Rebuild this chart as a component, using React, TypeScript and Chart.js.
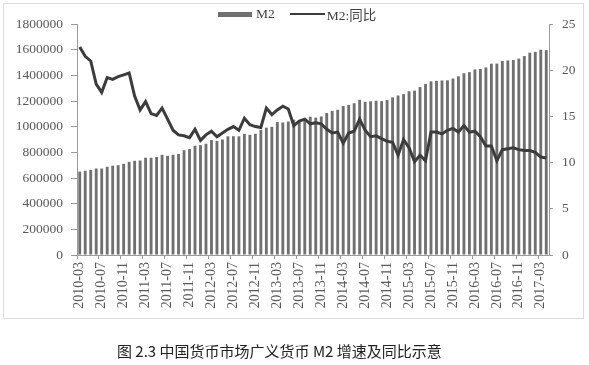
import React, { useEffect, useRef } from "react";
import { Chart, registerables } from "chart.js";

Chart.register(...registerables);

const categories = [
  "2010-03","2010-04","2010-05","2010-06","2010-07","2010-08","2010-09","2010-10","2010-11","2010-12",
  "2011-01","2011-02","2011-03","2011-04","2011-05","2011-06","2011-07","2011-08","2011-09","2011-10","2011-11","2011-12",
  "2012-01","2012-02","2012-03","2012-04","2012-05","2012-06","2012-07","2012-08","2012-09","2012-10","2012-11","2012-12",
  "2013-01","2013-02","2013-03","2013-04","2013-05","2013-06","2013-07","2013-08","2013-09","2013-10","2013-11","2013-12",
  "2014-01","2014-02","2014-03","2014-04","2014-05","2014-06","2014-07","2014-08","2014-09","2014-10","2014-11","2014-12",
  "2015-01","2015-02","2015-03","2015-04","2015-05","2015-06","2015-07","2015-08","2015-09","2015-10","2015-11","2015-12",
  "2016-01","2016-02","2016-03","2016-04","2016-05","2016-06","2016-07","2016-08","2016-09","2016-10","2016-11","2016-12",
  "2017-01","2017-02","2017-03","2017-04",
];

const m2Values = [
  649947, 656561, 663351, 673922, 674051, 687507, 696472, 699777, 710339, 725852,
  733885, 736131, 758131, 757385, 763409, 780821, 772924, 780852, 787406, 816829, 825494, 851591,
  855899, 867171, 895566, 889604, 900049, 924991, 925375, 924895, 943689, 936405, 944758, 974149,
  992129, 998601, 1035858, 1032552, 1040021, 1054404, 1052212, 1061256, 1077379, 1070242, 1079257, 1106525,
  1123521, 1131761, 1160687, 1168813, 1182300, 1209587, 1194249, 1197499, 1202051, 1199236, 1208600, 1228375,
  1242710, 1253383, 1275333, 1280779, 1308686, 1333375, 1353211, 1356991, 1359824, 1361020, 1374917, 1392278,
  1416320, 1424619, 1446198, 1449531, 1461695, 1490492, 1491560, 1512400, 1516361, 1519500, 1530400, 1550067,
  1575946, 1582915, 1599610, 1596331,
];

const m2Yoy = [
  22.5, 21.5, 21.0, 18.5, 17.6, 19.2, 19.0, 19.3, 19.5, 19.7,
  17.2, 15.7, 16.6, 15.3, 15.1, 15.9, 14.7, 13.5, 13.0, 12.9, 12.7, 13.6,
  12.4, 13.0, 13.4, 12.8, 13.2, 13.6, 13.9, 13.5, 14.8, 14.1, 13.9, 13.8,
  15.9, 15.2, 15.7, 16.1, 15.8, 14.0, 14.5, 14.7, 14.2, 14.3, 14.2, 13.6,
  13.2, 13.3, 12.1, 13.2, 13.4, 14.7, 13.5, 12.8, 12.9, 12.6, 12.3, 12.2,
  10.8, 12.5, 11.6, 10.1, 10.8, 10.2, 13.3, 13.3, 13.1, 13.5, 13.7, 13.3,
  14.0, 13.3, 13.4, 12.8, 11.8, 11.8, 10.2, 11.4, 11.5, 11.6, 11.4, 11.3,
  11.3, 11.1, 10.6, 10.5,
];

const seriesNames = ["M2", "M2:同比"];
const captionText = "图 2.3 中国货币市场广义货币 M2 增速及同比示意";

const BAR_COLOR = "#707070";
const LINE_COLOR = "#3c3c3c";
const AXIS_COLOR = "#9a9a9a";
const TICK_TEXT = "#595959";
const SERIF = "'Liberation Serif', 'DejaVu Serif', serif";

export default function App() {
  const ref = useRef<HTMLCanvasElement | null>(null);

  useEffect(() => {
    if (!ref.current) return;
    const chart = new Chart(ref.current, {
      type: "bar",
      data: {
        labels: categories,
        datasets: [
          {
            type: "line",
            label: seriesNames[1],
            data: m2Yoy,
            yAxisID: "y1",
            borderColor: LINE_COLOR,
            backgroundColor: LINE_COLOR,
            borderWidth: 3,
            pointRadius: 0,
            tension: 0,
            order: 0,
          },
          {
            type: "bar",
            label: seriesNames[0],
            data: m2Values,
            yAxisID: "y",
            backgroundColor: BAR_COLOR,
            barPercentage: 0.52,
            categoryPercentage: 1,
            order: 1,
          },
        ],
      },
      options: {
        responsive: false,
        animation: false,
        layout: { padding: { top: 24, left: 0, right: 0, bottom: 50 } },
        plugins: {
          legend: { display: false },
          tooltip: { enabled: false },
        },
        scales: {
          x: {
            offset: true,
            border: { display: true, color: AXIS_COLOR, width: 1 },
            grid: {
              display: true,
              offset: true,
              drawOnChartArea: false,
              drawTicks: true,
              tickLength: 4,
              color: (ctx: any) => (ctx.index % 4 === 0 ? AXIS_COLOR : "rgba(0,0,0,0)"),
            },
            ticks: {
              autoSkip: false,
              minRotation: 90,
              maxRotation: 90,
              padding: 3,
              color: TICK_TEXT,
              font: { family: SERIF, size: 14 },
              callback: (_v: any, i: number) => (i % 4 === 0 ? categories[i] : ""),
            },
            afterFit: (s: any) => {
              s.height = 60;
            },
          },
          y: {
            position: "left",
            min: 0,
            max: 1800000,
            border: { display: true, color: AXIS_COLOR, width: 1 },
            grid: { drawOnChartArea: false, drawTicks: true, tickLength: 6, color: AXIS_COLOR },
            ticks: {
              stepSize: 200000,
              padding: 8,
              color: TICK_TEXT,
              font: { family: SERIF, size: 13.5 },
              callback: (v: any) => String(v),
            },
            afterFit: (s: any) => {
              s.width = 77;
            },
          },
          y1: {
            position: "right",
            min: 0,
            max: 25,
            border: { display: true, color: AXIS_COLOR, width: 1 },
            grid: { drawOnChartArea: false, drawTicks: true, tickLength: 4, color: AXIS_COLOR },
            ticks: {
              stepSize: 5,
              padding: 9,
              color: TICK_TEXT,
              font: { family: SERIF, size: 13.5 },
            },
            afterFit: (s: any) => {
              s.width = 40;
            },
          },
        },
      },
    });
    return () => chart.destroy();
  }, []);

  return (
    <div style={{ position: "absolute", left: 0, top: 0, width: 589, height: 365, background: "#fff" }}>
      <div
        style={{
          position: "absolute",
          left: 3,
          top: 3,
          width: 579,
          height: 314,
          border: "1px solid #dcdcdc",
          boxSizing: "content-box",
        }}
      />
      <canvas ref={ref} width={589} height={365} style={{ position: "absolute", left: 0, top: 0 }} />
      <div
        style={{
          position: "absolute",
          left: 218,
          top: 4,
          height: 20,
          display: "flex",
          alignItems: "center",
          fontFamily: SERIF,
          fontSize: 13.5,
          color: "#404040",
          whiteSpace: "nowrap",
        }}
      >
        <span style={{ display: "inline-block", width: 34, height: 5, background: BAR_COLOR }} />
        <span style={{ marginLeft: 4 }}>{seriesNames[0]}</span>
        <span style={{ display: "inline-block", width: 35, height: 2, background: LINE_COLOR, marginLeft: 15 }} />
        <span style={{ marginLeft: 2, fontFamily: "'Liberation Serif', 'Noto Sans CJK SC', serif" }}>{seriesNames[1]}</span>
      </div>
      <div
        style={{
          position: "absolute",
          left: 117,
          top: 340,
          fontFamily: "'Noto Sans CJK SC', 'Noto Sans', sans-serif",
          fontSize: 15,
          color: "#222",
          whiteSpace: "nowrap",
          lineHeight: "22px",
        }}
      >
        {captionText}
      </div>
    </div>
  );
}
